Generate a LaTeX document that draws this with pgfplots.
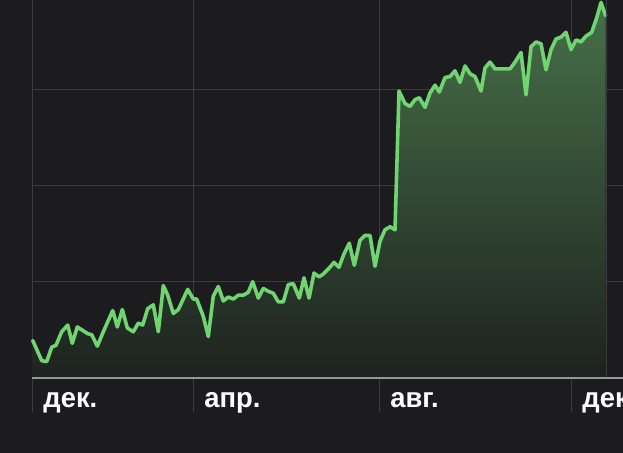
\documentclass[border=0pt]{standalone}
\usepackage{pgfplots}
\pgfplotsset{compat=1.18}
\usepackage{pgfplotstable}
\usepackage{fontspec}
\setmainfont{Liberation Sans}
\definecolor{bg}{RGB}{28,28,30}
\definecolor{gridc}{RGB}{60,60,62}
\definecolor{basec}{RGB}{150,150,154}
\definecolor{linec}{RGB}{112,212,112}
\definecolor{filltop}{RGB}{70,112,72}
\definecolor{fillbot}{RGB}{30,34,31}
\pgfplotstableread{
x y
32.7 103.9
41.7 101.8
46.7 101.7
51.7 103.2
56 103.4
61.7 104.8
67.7 105.5
72.3 103.6
77.3 105.3
83.3 104.9
87.7 104.6
91.7 104.5
97.3 103.3
103.3 104.8
112.7 107.0
117.3 105.3
122.3 107.1
127.3 105.2
133.3 104.8
138.3 105.7
142.7 105.5
147.7 107.2
153.3 107.6
158.3 104.8
163.3 109.6
167.7 108.6
173.3 106.7
178.3 107.1
187.7 109.2
193.3 108.2
196.7 108.2
203.3 106.4
208.3 104.3
213.3 108.5
218.3 109.5
223.3 108.0
228.3 108.4
233.3 108.2
238.3 108.6
243.3 108.6
248.3 108.9
252.7 110.0
258.3 108.3
263.3 109.3
268.3 109.0
273.3 108.8
278.3 107.9
283.3 107.9
288.3 109.7
293.3 109.8
299.3 108.3
304 110.4
309 108.3
314 110.9
319 110.5
323.3 110.8
329 111.4
334 112.0
339 111.5
344 112.9
349.3 114.0
354.3 111.7
360 114.3
365 114.8
370 114.8
375 111.6
380 114.2
385 115.4
390 115.7
395 115.4
399 129.8
405 128.5
410 128.2
415 128.9
419.3 129.1
425 128.1
430 129.6
435 130.4
439.3 129.7
445 131.2
450 131.3
455 131.9
460 130.7
465 132.4
470 131.6
475 131.3
481 129.8
485 132.2
490 132.8
495 132.1
500 132.1
505 132.1
510 132.1
515 132.8
521 133.8
526 129.4
531 134.4
536 134.9
541 134.7
546 132.0
551 134.1
556 135.2
561 135.4
566 135.9
571 134.1
576 135.1
581 134.9
586 135.5
591.7 135.9
596.7 137.4
601 139.0
605.7 137.6
}\pricedata
\begin{document}
\begin{tikzpicture}[x=1bp,y=1bp]
\fill[bg] (0,0) rectangle (623,453);
\useasboundingbox (0,0) rectangle (623,453);
\begin{axis}[
  at={(32bp,75bp)}, anchor=south west,
  scale only axis, width=591bp, height=394.83bp,
  xmin=32, xmax=623, ymin=100, ymax=141,
  axis line style={draw=none},
  major tick length=0pt,
  clip=false,
  xtick={32,193,379,571},
  xticklabels={дек.,апр.,авг.,дек.},
  ytick={110,120,130,140},
  yticklabels={110,120,130,140},
  yticklabel pos=right,
  xmajorgrids, ymajorgrids,
  grid style={color=gridc, line width=1bp},
  xticklabel style={font=\fontsize{28}{28}\selectfont\bfseries, text=white, anchor=base west, xshift=8bp, yshift=-30bp, xscale=0.98},
  yticklabel style={font=\fontsize{24}{24}\selectfont\bfseries, text=white, anchor=north west, xshift=-5bp, yshift=-12bp},
  /pgf/number format/assume math mode=true,
]
\addplot[draw=none, top color=filltop, bottom color=fillbot] table[x=x,y=y] {\pricedata} \closedcycle;
\addplot[color=linec, line width=3.6bp, line join=round, line cap=round] table[x=x,y=y] {\pricedata};
\draw[gridc, line width=1bp] (axis cs:32,100) -- ([yshift=-34bp]axis cs:32,100);
\draw[gridc, line width=1bp] (axis cs:193,100) -- ([yshift=-34bp]axis cs:193,100);
\draw[gridc, line width=1bp] (axis cs:379,100) -- ([yshift=-34bp]axis cs:379,100);
\draw[gridc, line width=1bp] (axis cs:571,100) -- ([yshift=-34bp]axis cs:571,100);
\draw[gridc, line width=1bp] (axis cs:606,100) -- (axis cs:606,141);
\draw[basec, line width=1.3bp] (axis cs:32,100) -- (axis cs:623,100);
\end{axis}
\end{tikzpicture}
\end{document}
